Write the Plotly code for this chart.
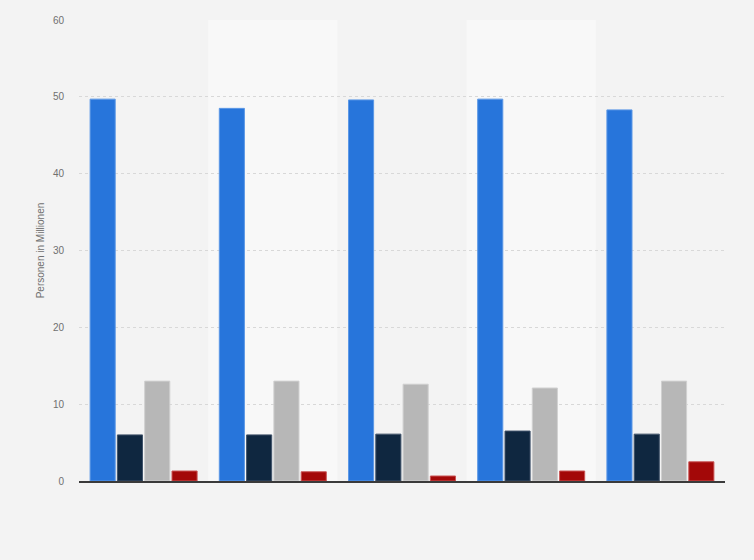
import plotly.graph_objects as go

categories = ["Gruppe 1", "Gruppe 2", "Gruppe 3", "Gruppe 4", "Gruppe 5"]
series_names = ["Serie A", "Serie B", "Serie C", "Serie D"]
values_a = [49.7, 48.5, 49.6, 49.7, 48.3]
values_b = [6.0, 6.0, 6.1, 6.5, 6.1]
values_c = [13.0, 13.0, 12.6, 12.1, 13.0]
values_d = [1.3, 1.2, 0.65, 1.3, 2.5]
colors = ["#2775db", "#0f2740", "#b7b7b7", "#a30808"]
line_colors = ["#5c98e6", "#40536a", "#d0d0d0", "#c95555"]
y_ticks = [0, 10, 20, 30, 40, 50, 60]

fig = go.Figure()
for name, vals, c, lc in zip(series_names, [values_a, values_b, values_c, values_d], colors, line_colors):
    fig.add_trace(go.Bar(x=categories, y=vals, name=name, marker=dict(color=c, line=dict(color=lc, width=1)),
                         showlegend=False))

for i in (1, 3):
    fig.add_shape(type="rect", xref="x", yref="paper", x0=i - 0.5, x1=i + 0.5, y0=0, y1=1,
                  fillcolor="#f8f8f8", line=dict(width=0), layer="below")

fig.update_layout(
    width=754, height=560,
    margin=dict(l=79, r=29, t=20, b=79),
    paper_bgcolor="#f3f3f3", plot_bgcolor="#f3f3f3",
    barmode="group", bargap=0.155, bargroupgap=0.08,
    font=dict(family="Liberation Sans, Arial, sans-serif", size=10, color="#707070"),
)
fig.update_xaxes(showticklabels=False, showgrid=False, showline=True, linecolor="#3a3a3a", linewidth=1.5,
                 range=[-0.5, 4.5])
fig.update_yaxes(range=[0, 60], tickvals=y_ticks, showgrid=True, gridcolor="#d8d8d8", griddash="dot",
                 gridwidth=1, zeroline=False, ticklabelstandoff=14,
                 title=dict(text="Personen in Millionen", font=dict(size=10, color="#707070"), standoff=6))

fig.write_html("out.html", config={"displayModeBar": False},
               post_script="document.body.style.margin='0';document.body.style.background='#f3f3f3';")
